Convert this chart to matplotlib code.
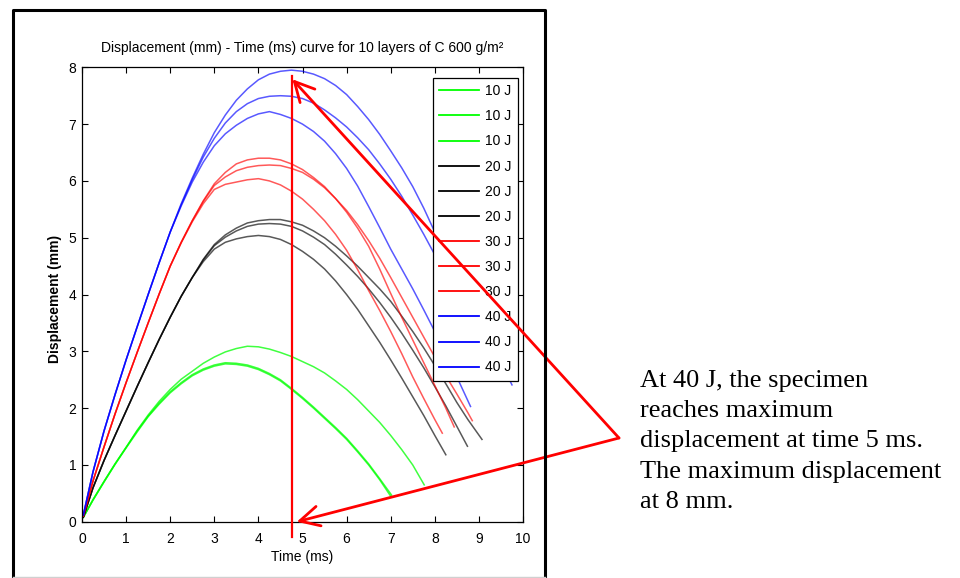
import matplotlib
matplotlib.use('Agg')
import matplotlib.pyplot as plt
from matplotlib.lines import Line2D

plt.rcParams['font.family'] = ['Liberation Sans', 'DejaVu Sans']

# ---------------- data ----------------
labels = ['10 J', '10 J', '10 J', '20 J', '20 J', '20 J',
          '30 J', '30 J', '30 J', '40 J', '40 J', '40 J']

# sampling times (ms) at which the curves were read
T = [0.03, 0.25, 0.5, 0.75, 1.0, 1.25, 1.5, 1.75, 2.0, 2.25,
     2.5, 2.75, 3.0, 3.25, 3.5, 3.75, 4.0, 4.25, 4.5, 4.75,
     5.0, 5.25, 5.5, 5.75, 6.0, 6.25, 6.5, 6.75, 7.0, 7.25,
     7.5, 7.75, 8.0, 8.25, 8.5, 8.75, 9.0, 9.25, 9.5, 9.75]

t_g1 = T[:29]
d_g1 = [0.08, 0.38, 0.70, 1.01, 1.30, 1.58, 1.85, 2.07, 2.27, 2.43,
        2.57, 2.67, 2.74, 2.78, 2.77, 2.74, 2.68, 2.59, 2.48, 2.33,
        2.17, 2.00, 1.82, 1.64, 1.45, 1.23, 1.00, 0.74, 0.45]
t_g2 = T[:28] + [7.02]
d_g2 = [0.08, 0.39, 0.71, 1.02, 1.31, 1.60, 1.86, 2.09, 2.29, 2.45,
        2.59, 2.69, 2.76, 2.80, 2.79, 2.76, 2.70, 2.61, 2.50, 2.35,
        2.19, 2.02, 1.84, 1.66, 1.47, 1.25, 1.02, 0.76, 0.47]
t_g3 = T[:31] + [7.76]
d_g3 = [0.08, 0.39, 0.71, 1.02, 1.31, 1.61, 1.88, 2.12, 2.33, 2.51,
        2.65, 2.79, 2.90, 2.99, 3.05, 3.09, 3.08, 3.04, 2.98, 2.91,
        2.82, 2.73, 2.62, 2.48, 2.33, 2.15, 1.95, 1.75, 1.52, 1.27,
        1.00, 0.65]

t_k1 = T[:36] + [9.07]
d_k1 = [0.08, 0.60, 1.08, 1.52, 1.95, 2.38, 2.80, 3.21, 3.60, 3.97,
        4.30, 4.62, 4.88, 5.05, 5.17, 5.26, 5.30, 5.32, 5.32, 5.28,
        5.22, 5.12, 5.00, 4.85, 4.68, 4.50, 4.30, 4.10, 3.88, 3.62,
        3.35, 3.06, 2.75, 2.43, 2.10, 1.80, 1.45]
t_k2 = T[:35] + [8.74]
d_k2 = [0.08, 0.60, 1.08, 1.52, 1.95, 2.38, 2.80, 3.21, 3.60, 3.97,
        4.30, 4.61, 4.86, 5.01, 5.12, 5.20, 5.24, 5.25, 5.24, 5.20,
        5.12, 5.01, 4.88, 4.71, 4.52, 4.32, 4.10, 3.86, 3.60, 3.32,
        3.02, 2.71, 2.38, 2.04, 1.68, 1.33]
t_k3 = T[:34]
d_k3 = [0.08, 0.60, 1.08, 1.52, 1.95, 2.38, 2.80, 3.21, 3.60, 3.97,
        4.30, 4.58, 4.80, 4.92, 4.98, 5.02, 5.04, 5.02, 4.97, 4.88,
        4.76, 4.62, 4.45, 4.24, 4.00, 3.74, 3.45, 3.16, 2.85, 2.53,
        2.20, 1.87, 1.52, 1.18]

t_r1 = T[:34] + [8.44]
d_r1 = [0.10, 0.72, 1.32, 1.90, 2.45, 2.98, 3.50, 4.01, 4.50, 4.92,
        5.30, 5.65, 5.95, 6.15, 6.30, 6.37, 6.40, 6.40, 6.37, 6.30,
        6.20, 6.06, 5.90, 5.69, 5.45, 5.17, 4.85, 4.45, 4.02, 3.60,
        3.20, 2.80, 2.40, 2.00, 1.67]
t_r2 = T[:36] + [8.85]
d_r2 = [0.10, 0.72, 1.32, 1.90, 2.45, 2.98, 3.50, 4.01, 4.50, 4.92,
        5.30, 5.64, 5.92, 6.07, 6.18, 6.24, 6.27, 6.28, 6.27, 6.22,
        6.15, 6.03, 5.88, 5.69, 5.48, 5.23, 4.95, 4.64, 4.30, 3.95,
        3.60, 3.25, 2.90, 2.57, 2.25, 1.92, 1.78]
t_r3 = T[:33] + [8.17]
d_r3 = [0.10, 0.72, 1.32, 1.90, 2.45, 2.98, 3.50, 4.01, 4.50, 4.91,
        5.28, 5.60, 5.85, 5.94, 5.98, 6.02, 6.04, 6.00, 5.93, 5.82,
        5.68, 5.50, 5.30, 5.06, 4.78, 4.44, 4.07, 3.72, 3.35, 2.96,
        2.55, 2.17, 1.80, 1.56]

t_b1 = T[:40]
d_b1 = [0.12, 0.88, 1.60, 2.24, 2.85, 3.43, 4.00, 4.56, 5.10, 5.60,
        6.05, 6.47, 6.85, 7.16, 7.42, 7.62, 7.78, 7.88, 7.93, 7.95,
        7.93, 7.88, 7.80, 7.68, 7.52, 7.31, 7.08, 6.82, 6.53, 6.23,
        5.90, 5.52, 5.10, 4.70, 4.30, 3.90, 3.50, 3.14, 2.80, 2.41]
t_b2 = T[:37] + [9.2]
d_b2 = [0.12, 0.88, 1.60, 2.24, 2.85, 3.43, 4.00, 4.56, 5.10, 5.58,
        6.02, 6.42, 6.75, 7.02, 7.22, 7.36, 7.45, 7.49, 7.50, 7.49,
        7.45, 7.37, 7.25, 7.11, 6.95, 6.76, 6.55, 6.30, 6.03, 5.73,
        5.40, 5.06, 4.70, 4.31, 3.90, 3.50, 3.10, 2.80]
t_b3 = T[:35] + [8.81]
d_b3 = [0.12, 0.88, 1.60, 2.24, 2.85, 3.43, 4.00, 4.56, 5.10, 5.56,
        5.98, 6.33, 6.62, 6.83, 6.98, 7.10, 7.18, 7.22, 7.17, 7.10,
        7.00, 6.87, 6.70, 6.48, 6.22, 5.91, 5.55, 5.18, 4.80, 4.45,
        4.10, 3.73, 3.35, 2.95, 2.55, 2.03]

x_ticks = [0, 1, 2, 3, 4, 5, 6, 7, 8, 9, 10]
y_ticks = [0, 1, 2, 3, 4, 5, 6, 7, 8]

title = 'Displacement (mm) - Time (ms) curve for 10 layers of C 600 g/m\u00b2'
note_lines = ['At 40 J, the specimen', 'reaches maximum',
              'displacement at time 5 ms.', 'The maximum displacement',
              'at 8 mm.']

# ---------------- figure ----------------
W, H = 960, 578
fig = plt.figure(figsize=(W / 100, H / 100), dpi=100)
fig.patch.set_facecolor('white')

def fx(px):
    return px / W

def fy(py):
    return 1 - py / H

ax_l, ax_r, ax_t, ax_b = 82, 523, 67.3, 521.8
ax = fig.add_axes([fx(ax_l), fy(ax_b), (ax_r - ax_l) / W, (ax_b - ax_t) / H])

series = [(t_g1, d_g1), (t_g2, d_g2), (t_g3, d_g3),
          (t_k1, d_k1), (t_k2, d_k2), (t_k3, d_k3),
          (t_r1, d_r1), (t_r2, d_r2), (t_r3, d_r3),
          (t_b1, d_b1), (t_b2, d_b2), (t_b3, d_b3)]
colors = ['#00ff00'] * 3 + ['#000000'] * 3 + ['#ff0000'] * 3 + ['#0000ff'] * 3
alphas = [0.75] * 3 + [0.65] * 3 + [0.65] * 3 + [0.65] * 3

for (t, d), c, a, lab in zip(series, colors, alphas, labels):
    ax.plot(t, d, color=c, lw=1.1, alpha=a, label=lab, solid_joinstyle='round')

ax.set_xlim(0, 10)
ax.set_ylim(0, 8)
ax.set_xticks(x_ticks)
ax.set_yticks(y_ticks)
ax.tick_params(direction='in', length=4, width=0.8, top=True, right=True,
               labelsize=10, colors='black')
ax.tick_params(axis='x', pad=7)
ax.tick_params(axis='y', pad=4)
for s in ax.spines.values():
    s.set_linewidth(0.9)
    s.set_color('black')

ax.set_xlabel('Time (ms)', fontsize=10)
ax.xaxis.set_label_coords(0.5, (ax_b - 550) / (ax_b - ax_t))
ax.set_ylabel('Displacement (mm)', fontsize=10, fontweight='bold')
ax.yaxis.set_label_coords((62 - ax_l) / (ax_r - ax_l), 0.49)
ax.text(0.5, (ax_b - 52) / (ax_b - ax_t), title, transform=ax.transAxes,
        ha='center', va='baseline', fontsize=10)

leg = ax.legend(loc='upper right',
                bbox_to_anchor=((518 - ax_l) / (ax_r - ax_l), (ax_b - 78) / (ax_b - ax_t)),
                borderaxespad=0, fontsize=10, fancybox=False, framealpha=1,
                edgecolor='black', handlelength=2.9, handletextpad=0.45,
                labelspacing=0.80, borderpad=0.45)
leg.get_frame().set_linewidth(0.9)
for h in leg.legend_handles:
    h.set_alpha(1.0)
    h.set_linewidth(1.3)
leg.set_zorder(5)

# ---------------- annotation ----------------
ax.plot([4.76, 4.76], [-0.27, 7.84], color='red', lw=1.6, clip_on=False, zorder=6)

src = (619, H - 438)
for tip in [(4.77, 7.79), (4.87, 0.0)]:
    ax.annotate('', xy=tip, xycoords='data', xytext=src, textcoords='figure pixels',
                arrowprops=dict(arrowstyle='->,head_length=0.7,head_width=0.36',
                                color='red', lw=2.0, shrinkA=0, shrinkB=0,
                                mutation_scale=20),
                annotation_clip=False, zorder=7)

for i, line in enumerate(note_lines):
    fig.text(fx(640), fy(386.7 + i * 30.3), line, ha='left', va='baseline',
             fontsize=19, family=['Liberation Serif', 'DejaVu Serif'], color='black')

# ---------------- outer box ----------------
fig.add_artist(Line2D([fx(13), fx(13), fx(545), fx(545)],
                      [0, fy(10), fy(10), 0], color='black', lw=2.2,
                      transform=fig.transFigure))
fig.add_artist(Line2D([fx(13), fx(545)], [fy(576.5), fy(576.5)], color='#d0d0d0',
                      lw=1.0, transform=fig.transFigure))

fig.savefig('out.png', dpi=100, facecolor='white')
